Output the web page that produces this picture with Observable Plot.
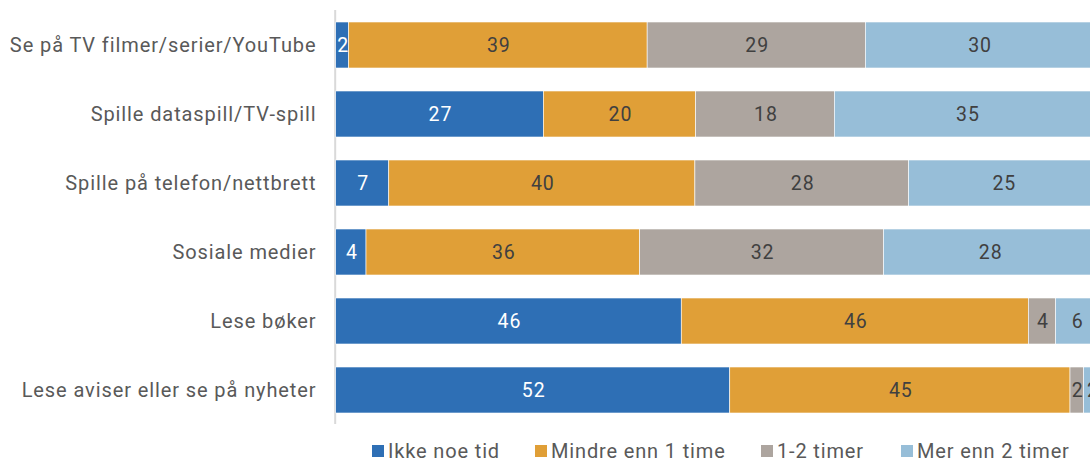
<!DOCTYPE html>
<html>
<head>
<meta charset="utf-8">
<script src="https://cdn.jsdelivr.net/npm/d3@7"></script>
<script src="https://cdn.jsdelivr.net/npm/@observablehq/plot@0.6"></script>
<style>
  html, body { margin: 0; padding: 0; background: #fff; }
  #wrap { position: relative; width: 1090px; height: 461px; font-family: Roboto, "Noto Sans", sans-serif; overflow: hidden; }
  #legend { position: absolute; left: 0; top: 436px; width: 1090px; height: 25px; }
  .item { position: absolute; top: 0; height: 29px; display: flex; align-items: center; font-size: 20px; letter-spacing: 0.85px; color: #595959; white-space: nowrap; }
  .sw { width: 12px; height: 12px; margin-right: 4px; }
  svg text { letter-spacing: 0.9px; }
</style>
</head>
<body>
<div id="wrap"><div id="chart"></div><div id="legend"></div></div>
<script>
const categories = [
  "Se på TV filmer/serier/YouTube",
  "Spille dataspill/TV-spill",
  "Spille på telefon/nettbrett",
  "Sosiale medier",
  "Lese bøker",
  "Lese aviser eller se på nyheter"
];
const series = ["Ikke noe tid", "Mindre enn 1 time", "1-2 timer", "Mer enn 2 timer"];
const ikkeNoeTid    = [1.7, 27.4, 7.0, 4.0, 45.6, 52.0];
const mindreEnn1    = [39.4, 20.1, 40.4, 36.1, 45.8, 44.9];
const enTilToTimer  = [28.8, 18.3, 28.2, 32.2, 3.6, 1.8];
const merEnn2       = [30, 35, 25, 28, 5.6, 2.2];
const colors = ["#2e6fb5", "#e09f37", "#ada59f", "#97bed8"];
const textColors = ["#ffffff", "#404040", "#404040", "#404040"];

const cols = [ikkeNoeTid, mindreEnn1, enTilToTimer, merEnn2];
const data = [];
categories.forEach((c, i) => {
  series.forEach((s, j) => {
    data.push({cat: c, series: s, value: cols[j][i], label: String(Math.round(cols[j][i]))});
  });
});

const chart = Plot.plot({
  width: 1090,
  height: 432,
  marginLeft: 335,
  marginRight: 0,
  marginTop: 10,
  marginBottom: 8,
  style: {fontFamily: "Roboto, 'Noto Sans', sans-serif", background: "#fff"},
  x: {domain: [0, 100], range: [335.7, 1093.5], axis: null},
  y: {domain: categories, range: [-2.2, 436.2], padding: 0.335, axis: null},
  color: {domain: series, range: colors},
  marks: [
    Plot.ruleX([0], {stroke: "#d9d9d9", strokeWidth: 2, dx: -1}),
    Plot.barX(data, Plot.stackX({x: "value", y: "cat", fill: "series", z: "series", order: series, stroke: "#ffffff", strokeWidth: 0.6})),
    Plot.text(data, Plot.stackX({
      x: "value", y: "cat", z: "series", order: series, text: "label",
      fill: d => textColors[series.indexOf(d.series)],
      fontSize: 19.5, dx: 0.45
    })),
    Plot.axisY({anchor: "left", tickSize: 0, tickPadding: 19, fontSize: 20, color: "#595959", label: null})
  ]
});
document.getElementById("chart").appendChild(chart);

const legendPos = [372, 535, 761, 901];
const legend = document.getElementById("legend");
series.forEach((s, j) => {
  const it = document.createElement("div");
  it.className = "item";
  it.style.left = legendPos[j] + "px";
  const sw = document.createElement("div");
  sw.className = "sw";
  sw.style.background = colors[j];
  const t = document.createElement("span");
  t.textContent = s;
  it.appendChild(sw);
  it.appendChild(t);
  legend.appendChild(it);
});
</script>
</body>
</html>
